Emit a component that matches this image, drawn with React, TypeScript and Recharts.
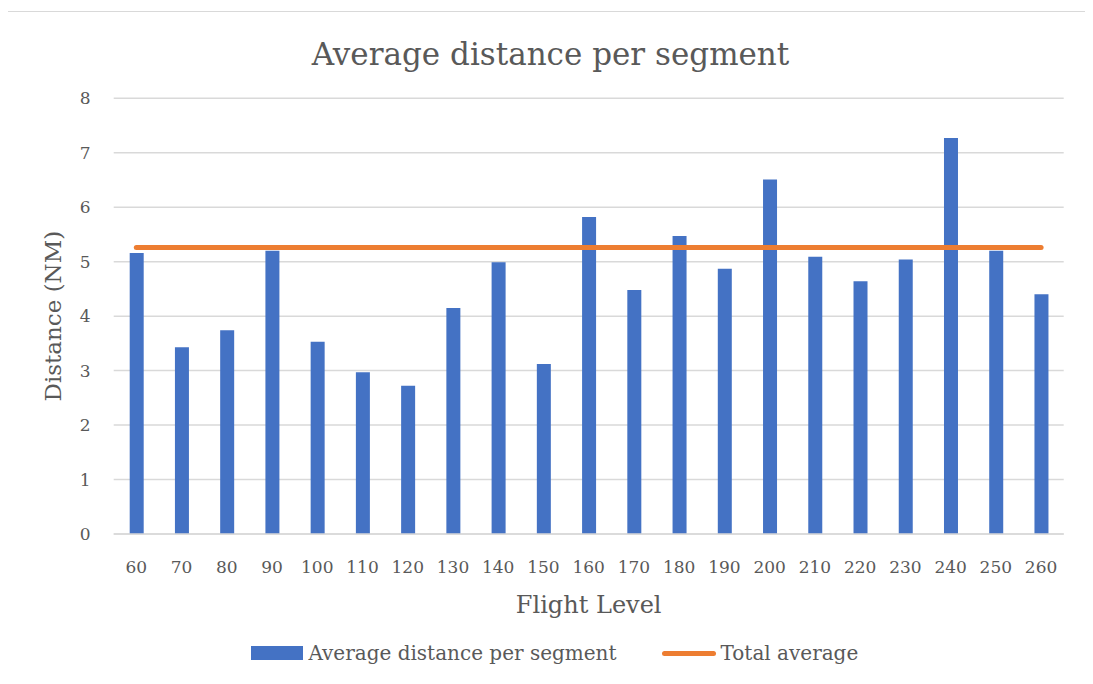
import React from 'react';
import {
  ComposedChart,
  Bar,
  Line,
  XAxis,
  YAxis,
  CartesianGrid,
  Legend,
} from 'recharts';

// Flight levels on the category axis
const flightLevels = [
  '60', '70', '80', '90', '100', '110', '120', '130', '140', '150', '160',
  '170', '180', '190', '200', '210', '220', '230', '240', '250', '260',
];

// Average distance per segment (NM) for each flight level
const avgDistance = [
  5.16, 3.43, 3.74, 5.2, 3.53, 2.97, 2.72, 4.15, 4.99, 3.12, 5.82,
  4.48, 5.47, 4.87, 6.51, 5.09, 4.64, 5.04, 7.27, 5.2, 4.4,
];

// Overall average across all segments (NM)
const totalAverage = 5.26;

const yTicks = [0, 1, 2, 3, 4, 5, 6, 7, 8];

const rows = flightLevels.map((level, i) => ({
  level,
  avg: avgDistance[i],
  total: totalAverage,
}));

const FONT = '"DejaVu Serif", serif';
const TEXT = '#595959';
const GRID = '#D9D9D9';
const BLUE = '#4472C4';
const ORANGE = '#ED7D31';

const W = 1085;
const H = 668;

function LegendContent(props: any) {
  const payload = props.payload || [];
  return (
    <div
      style={{
        height: 40,
        display: 'flex',
        justifyContent: 'center',
        alignItems: 'center',
        paddingLeft: 38,
        boxSizing: 'border-box',
        fontFamily: FONT,
        fontSize: 20,
        color: TEXT,
      }}
    >
      {payload.map((entry: any, i: number) => (
        <div
          key={i}
          style={{
            display: 'flex',
            alignItems: 'center',
            marginLeft: i === 0 ? 0 : 45,
          }}
        >
          {entry.type === 'rect' ? (
            <span
              style={{ display: 'inline-block', width: 52, height: 14, background: entry.color }}
            />
          ) : (
            <span
              style={{
                display: 'inline-block',
                width: 54,
                height: 5,
                borderRadius: 3,
                background: entry.color,
              }}
            />
          )}
          <span style={{ marginLeft: 5, whiteSpace: 'nowrap' }}>{entry.value}</span>
        </div>
      ))}
    </div>
  );
}

function YTitle(props: any) {
  const vb = props.viewBox;
  const cx = vb.x + 45;
  const cy = vb.y + vb.height / 2;
  return (
    <text
      x={cx}
      y={cy}
      transform={`rotate(-90, ${cx}, ${cy})`}
      textAnchor="middle"
      dominantBaseline="central"
      fontFamily={FONT}
      fontSize={23}
      fill={TEXT}
    >
      Distance (NM)
    </text>
  );
}

function XTitle(props: any) {
  const vb = props.viewBox;
  return (
    <text
      x={vb.x + vb.width / 2}
      y={vb.y + 71}
      textAnchor="middle"
      dominantBaseline="central"
      fontFamily={FONT}
      fontSize={24}
      fill={TEXT}
    >
      Flight Level
    </text>
  );
}

export default function App() {
  return (
    <div style={{ position: 'relative', width: W, height: H, background: '#fff' }}>
      <div
        style={{
          position: 'absolute',
          left: -1,
          top: 3,
          right: 0,
          bottom: 0,
          borderTop: `1px solid ${GRID}`,
          borderLeft: `1px solid ${GRID}`,
          pointerEvents: 'none',
        }}
      />
      <div
        style={{
          position: 'absolute',
          left: 0,
          top: 31,
          width: W,
          textAlign: 'center',
          fontFamily: FONT,
          fontSize: 31,
          lineHeight: '31px',
          color: TEXT,
        }}
      >
        Average distance per segment
      </div>
      <ComposedChart
        width={W}
        height={H}
        data={rows}
        margin={{ top: 90.3, right: 29.3, left: 0, bottom: 3 }}
      >
        <CartesianGrid vertical={false} stroke={GRID} strokeWidth={1.5} />
        <XAxis
          dataKey="level"
          height={99}
          tickLine={false}
          axisLine={{ stroke: GRID, strokeWidth: 1.5 }}
          tickMargin={21}
          tick={{ fontFamily: FONT, fontSize: 17, fill: TEXT }}
          interval={0}
          label={{ content: (p: any) => <XTitle {...p} /> }}
        />
        <YAxis
          width={105.7}
          domain={[0, 8]}
          ticks={yTicks}
          tickLine={false}
          axisLine={false}
          tickMargin={17}
          tick={{ fontFamily: FONT, fontSize: 17, fill: TEXT }}
          label={{ content: (p: any) => <YTitle {...p} /> }}
        />
        <Legend verticalAlign="bottom" content={(p: any) => <LegendContent {...p} />} />
        <Bar
          dataKey="avg"
          name="Average distance per segment"
          fill={BLUE}
          barSize={14}
          legendType="rect"
          isAnimationActive={false}
        />
        <Line
          dataKey="total"
          name="Total average"
          stroke={ORANGE}
          strokeWidth={5}
          strokeLinecap="round"
          dot={false}
          activeDot={false}
          legendType="line"
          isAnimationActive={false}
        />
      </ComposedChart>
    </div>
  );
}
